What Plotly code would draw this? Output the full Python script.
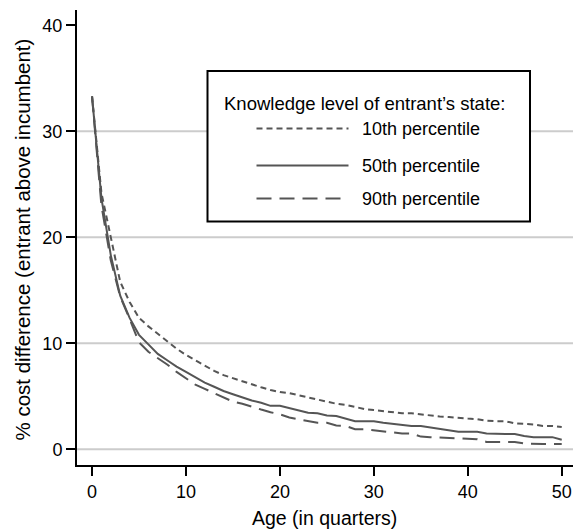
import plotly.graph_objects as go

# ---------------- data ----------------
age = list(range(0, 51))

pct10 = [33.3, 24.2, 20.0, 15.8, 13.9, 12.4, 11.6, 10.9, 10.2, 9.5,
         8.9, 8.4, 7.9, 7.4, 7.0, 6.7, 6.4, 6.1, 5.85, 5.6,
         5.4, 5.3, 5.1, 4.9, 4.65, 4.5, 4.3, 4.2, 4.0, 3.8,
         3.7, 3.6, 3.45, 3.4, 3.4, 3.3, 3.15, 3.1, 3.05, 2.95,
         2.9, 2.85, 2.7, 2.65, 2.65, 2.45, 2.4, 2.35, 2.2, 2.2,
         2.1]

pct50 = [33.3, 23.7, 18.3, 14.5, 12.4, 10.8, 9.9, 9.0, 8.4, 7.8,
         7.3, 6.8, 6.3, 5.9, 5.5, 5.2, 4.9, 4.6, 4.4, 4.1,
         4.1, 3.9, 3.7, 3.45, 3.4, 3.2, 3.15, 2.9, 2.65, 2.65,
         2.65, 2.5, 2.4, 2.3, 2.2, 2.2, 2.05, 1.95, 1.8, 1.65,
         1.65, 1.65, 1.5, 1.45, 1.45, 1.45, 1.25, 1.15, 1.15, 1.15,
         0.9]

pct90 = [33.3, 23.0, 17.8, 14.4, 12.3, 10.1, 9.2, 8.6, 8.0, 7.3,
         6.7, 6.1, 5.7, 5.3, 4.9, 4.5, 4.3, 4.0, 3.75, 3.5,
         3.3, 3.0, 2.85, 2.7, 2.5, 2.5, 2.25, 2.2, 1.9, 1.9,
         1.8, 1.7, 1.6, 1.5, 1.5, 1.2, 1.15, 1.1, 1.1, 1.0,
         0.95, 0.95, 0.7, 0.7, 0.7, 0.7, 0.55, 0.5, 0.5, 0.5,
         0.5]

series_names = ["10th percentile", "50th percentile", "90th percentile"]
x_ticks = [0, 10, 20, 30, 40, 50]
y_ticks = [0, 10, 20, 30, 40]
grid_vals = [0, 10, 20, 30]

legend_title = "Knowledge level of entrant\u2019s state:"
x_title = "Age (in quarters)"
y_title = "% cost difference (entrant above incumbent)"

# ---------------- style ----------------
W, H = 573, 531
ML, MR, MT, MB = 77, 0, 10, 66
FONT = "Liberation Sans, Arial, Helvetica, sans-serif"
LINE_COLOR = "#555555"
dashes = ["6px,4px", "solid", "15px,8px"]

fig = go.Figure()
for name, vals, d in zip(series_names, [pct10, pct50, pct90], dashes):
    fig.add_trace(go.Scatter(x=age, y=vals, mode="lines", name=name,
                             line=dict(color=LINE_COLOR, width=2, dash=d),
                             showlegend=False))

# gridlines (only 0..30)
for g in grid_vals:
    fig.add_shape(type="line", xref="paper", yref="y", x0=0, x1=1, y0=g, y1=g,
                  line=dict(color="#cccccc", width=2), layer="below")

# pixel -> paper helpers
pw = W - ML - MR
ph = H - MT - MB


def px(xp):
    return (xp - ML) / pw


def py(yp):
    return (H - MB - yp) / ph


# manual legend box
fig.add_shape(type="rect", xref="paper", yref="paper",
              x0=px(207.5), x1=px(530), y0=py(221.5), y1=py(71),
              line=dict(color="black", width=2), fillcolor="white", layer="above")
fig.add_annotation(xref="paper", yref="paper", x=px(222), y=py(103.5),
                   text=legend_title, showarrow=False, xanchor="left",
                   yanchor="middle", font=dict(family=FONT, size=18.5, color="black"))
rows_y = [128.5, 165.5, 198.5]
for name, d, ry in zip(series_names, dashes, rows_y):
    fig.add_shape(type="line", xref="paper", yref="paper",
                  x0=px(256.5), x1=px(348.5), y0=py(ry), y1=py(ry),
                  line=dict(color=LINE_COLOR, width=2, dash=d), layer="above")
    fig.add_annotation(xref="paper", yref="paper", x=px(360), y=py(ry),
                       text=name, showarrow=False, xanchor="left",
                       yanchor="middle", font=dict(family=FONT, size=18, color="black"))

# axis titles as annotations for exact placement
fig.add_annotation(xref="paper", yref="paper", x=px(324), y=py(518),
                   text=x_title, showarrow=False, xanchor="center", yanchor="middle",
                   font=dict(family=FONT, size=19.5, color="black"))
fig.add_annotation(xref="paper", yref="paper", x=px(21.5), y=py(240),
                   text=y_title, showarrow=False, xanchor="center", yanchor="middle",
                   textangle=-90, font=dict(family=FONT, size=20.5, color="black"))

fig.update_layout(
    width=W, height=H,
    margin=dict(l=ML, r=MR, t=MT, b=MB),
    paper_bgcolor="white", plot_bgcolor="white",
    font=dict(family=FONT, size=18, color="black"),
    xaxis=dict(range=[-1.6, 51.2], tickvals=x_ticks, showgrid=False, zeroline=False,
               showline=True, linecolor="black", linewidth=2,
               ticks="outside", ticklen=9, tickwidth=2, tickcolor="black",
               tickfont=dict(size=18)),
    yaxis=dict(range=[-1.48, 41.45], tickvals=y_ticks, showgrid=False, zeroline=False,
               showline=True, linecolor="black", linewidth=2,
               ticks="outside", ticklen=9, tickwidth=2, tickcolor="black",
               tickfont=dict(size=18)),
)

fig.write_html("out.html")
